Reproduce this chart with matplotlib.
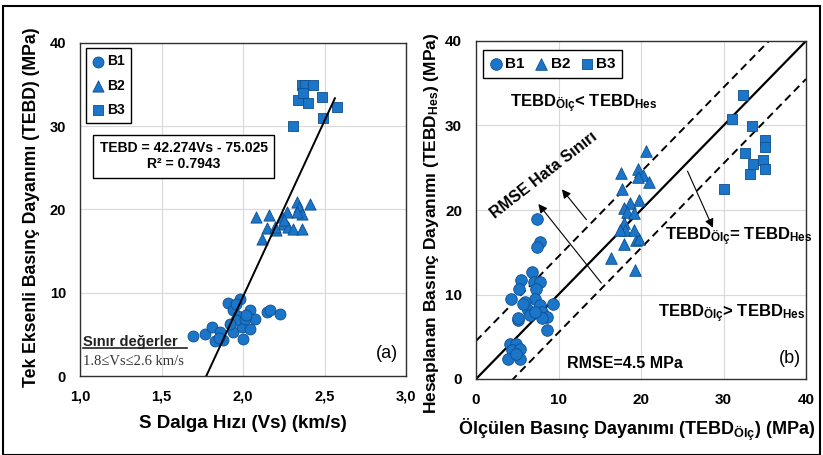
import matplotlib
matplotlib.use('Agg')
import matplotlib.pyplot as plt
from matplotlib.patches import Rectangle
from matplotlib.lines import Line2D
import numpy as np

plt.rcParams['font.family'] = ['Liberation Sans', 'DejaVu Sans']
plt.rcParams['mathtext.fontset'] = 'custom'
plt.rcParams['mathtext.rm'] = 'Liberation Sans'
plt.rcParams['mathtext.bf'] = 'Liberation Sans:bold'
plt.rcParams['mathtext.it'] = 'Liberation Sans:italic'

# ---------------- data: panel (a) ----------------
b1_vs = [1.695, 1.767, 1.808, 1.859, 1.828, 1.879, 1.91, 1.94, 1.982, 1.971, 1.94, 1.992, 2.002,
         2.043, 2.074, 2.043, 2.145, 2.166, 2.227, 1.96, 2.01, 1.96, 1.85, 2.02, 1.92]
b1_tebd = [4.8, 5.1, 5.9, 5.3, 4.2, 4.3, 8.8, 7.9, 9.3, 7.2, 5.3, 5.9, 4.4,
           7.9, 6.9, 5.6, 7.7, 7.9, 7.4, 6.7, 6.9, 8.7, 4.6, 7.3, 6.2]
b2_vs = [2.08, 2.115, 2.16, 2.149, 2.202, 2.237, 2.247, 2.278, 2.268, 2.329, 2.345, 2.36,
         2.411, 2.309, 2.36, 2.33, 2.196, 2.25]
b2_tebd = [19.1, 16.5, 19.3, 17.8, 17.5, 19.1, 18.3, 17.9, 19.7, 20.9, 20.3, 19.5,
           20.7, 17.7, 17.7, 19.7, 17.9, 18.7]
b3_vs = [2.36, 2.38, 2.431, 2.483, 2.339, 2.40, 2.37, 2.575, 2.49, 2.309]
b3_tebd = [34.95, 34.95, 34.95, 33.5, 33.15, 32.76, 33.96, 32.35, 31.0, 30.0]
fit_slope, fit_intercept = 42.274, -75.025
fit_vs_range = [1.775, 2.564]
xticks_a = [1.0, 1.5, 2.0, 2.5, 3.0]
xticklabels_a = ['1,0', '1,5', '2,0', '2,5', '3,0']
yticks = [0, 10, 20, 30, 40]

# ---------------- data: panel (b) ----------------
b1_olc = [7.35, 7.76, 7.35, 6.75, 5.5, 7.0, 7.8, 5.25, 7.27, 4.2, 7.15, 5.9, 9.3, 6.3, 7.76, 7.96,
          6.55, 5.13, 8.57, 7.96, 8.57, 4.12, 4.85, 4.32, 5.33, 3.9, 5.33, 4.9, 5.7, 7.15, 5.13]
b1_hes = [18.9, 16.2, 15.6, 12.7, 11.7, 11.5, 11.5, 10.7, 10.7, 9.5, 9.5, 9.1, 8.9, 8.2, 8.75, 7.96,
          7.57, 6.98, 7.37, 7.17, 5.8, 4.2, 4.2, 3.4, 3.6, 2.4, 2.4, 3.0, 8.9, 7.96, 7.17]
b2_olc = [20.6, 17.6, 19.6, 20.3, 21.0, 19.6, 17.7, 19.7, 18.7, 17.9, 18.3, 19.1, 17.9, 18.1,
          17.5, 17.9, 19.4, 19.7, 16.4, 19.3, 19.2]
b2_hes = [27.0, 24.4, 24.9, 24.1, 23.3, 23.9, 22.5, 21.2, 20.8, 20.2, 19.8, 19.6, 18.5, 17.6,
          17.6, 16.0, 16.4, 16.6, 14.3, 12.9, 17.6]
b3_olc = [32.4, 31.0, 33.4, 35.0, 35.0, 32.6, 33.6, 34.8, 35.0, 33.2, 30.0]
b3_hes = [33.6, 30.8, 29.9, 28.3, 27.5, 26.7, 25.5, 25.9, 24.9, 24.3, 22.5]
rmse = 4.5
xticks_b = [0, 10, 20, 30, 40]

BLUE = '#1b75c8'
EDGE = '#0e4f8f'
W, H = 823, 455

fig = plt.figure(figsize=(W / 100, H / 100), dpi=100)


def px_axes(x0, y0, x1, y1):
    return fig.add_axes([x0 / W, 1 - y1 / H, (x1 - x0) / W, (y1 - y0) / H])


def style(ax, size, pad):
    ax.grid(True, color='#d9d9d9', lw=0.8)
    ax.set_axisbelow(True)
    ax.tick_params(length=0, labelsize=size, pad=pad)
    for lab in ax.get_xticklabels() + ax.get_yticklabels():
        lab.set_fontweight('bold')
    for s in ax.spines.values():
        s.set_color('#303030')
        s.set_linewidth(1.0)


mk = dict(c=BLUE, edgecolors=EDGE, linewidths=0.6, zorder=3)

# ---------------- panel (a) ----------------
axa = px_axes(80, 43, 406, 376)
axa.set_xlim(1.0, 3.0)
axa.set_ylim(0, 40)
axa.set_xticks(xticks_a)
axa.set_xticklabels(xticklabels_a)
axa.set_yticks(yticks)
style(axa, 10.5, 10)
axa.scatter(b1_vs, b1_tebd, marker='o', s=62, label='B1', **mk)
axa.scatter(b2_vs, b2_tebd, marker='^', s=65, label='B2', **mk)
axa.scatter(b3_vs, b3_tebd, marker='s', s=52, label='B3', **mk)
fx = np.array(fit_vs_range)
axa.plot(fx, fit_slope * fx + fit_intercept, color='black', lw=1.4, zorder=4)
leg = axa.legend(loc='upper left', bbox_to_anchor=(0.018, 0.985), borderaxespad=0,
                 handlelength=0.8, handletextpad=0.3, labelspacing=0.75, borderpad=0.45,
                 fancybox=False, framealpha=1, prop={'weight': 'bold', 'size': 10})
leg.get_frame().set_edgecolor('black')
leg.get_frame().set_linewidth(1.0)
axa.text(1.635, 26.4, 'TEBD = 42.274Vs - 75.025\nR² = 0.7943', ha='center', va='center',
         multialignment='center', fontsize=10, fontweight='bold', zorder=5,
         bbox=dict(boxstyle='square,pad=0.45', fc='white', ec='black', lw=1.0))
axa.text(0.009, 0.103, 'Sınır değerler', transform=axa.transAxes, ha='left', va='center',
         fontsize=10.5, fontweight='bold', color='#222222')
axa.add_line(Line2D([0.009, 0.328], [0.084, 0.084], transform=axa.transAxes, color='#222222', lw=1.2))
axa.text(0.009, 0.043, '1.8≤Vs≤2.6 km/s', transform=axa.transAxes, ha='left', va='center',
         fontsize=10.5, family=['Liberation Serif', 'DejaVu Serif'], color='#333333')
axa.text(0.975, 0.069, '(a)', transform=axa.transAxes, ha='right', va='center', fontsize=13)
fig.text(243 / W, 1 - 424 / H, 'S Dalga Hızı (Vs) (km/s)', ha='center', va='center',
         fontsize=13.5, fontweight='bold')
fig.text(32 / W, 1 - 207 / H, 'Tek Eksenli Basınç Dayanımı (TEBD) (MPa)', ha='center',
         va='center', rotation=90, fontsize=12.7, fontweight='bold')

# ---------------- panel (b) ----------------
axb = px_axes(476, 41, 806, 379)
axb.set_xlim(0, 40)
axb.set_ylim(0, 40)
axb.set_xticks(xticks_b)
axb.set_yticks(yticks)
style(axb, 11, 10)
lim = np.array([0, 40])
axb.plot(lim, lim, color='black', lw=1.6, zorder=2)
axb.plot(lim, lim + rmse, color='black', lw=1.4, ls=(0, (4, 2.5)), zorder=2)
axb.plot(lim, lim - rmse, color='black', lw=1.4, ls=(0, (4, 2.5)), zorder=2)
axb.scatter(b1_olc, b1_hes, marker='o', s=70, label='B1', **mk)
axb.scatter(b2_olc, b2_hes, marker='^', s=70, label='B2', **mk)
axb.scatter(b3_olc, b3_hes, marker='s', s=60, label='B3', **mk)
legb = axb.legend(loc='upper left', bbox_to_anchor=(0.021, 0.973), borderaxespad=0, ncol=3,
                  handlelength=0.8, handletextpad=0.2, columnspacing=0.7, borderpad=0.45,
                  fancybox=False, framealpha=1, prop={'weight': 'bold', 'size': 11})
legb.get_frame().set_edgecolor('black')
legb.get_frame().set_linewidth(1.0)
ap = dict(arrowstyle='-|>', color='black', lw=0.8, mutation_scale=13)
axb.annotate('', xy=(7.35, 20.97), xytext=(15.4, 11.1), arrowprops=ap)
axb.annotate('', xy=(10.2, 22.7), xytext=(13.6, 18.6), arrowprops=ap)
axb.annotate('', xy=(28.85, 17.6), xytext=(25.5, 24.9), arrowprops=ap)
axb.text(8.2, 24.1, 'RMSE Hata Sınırı', rotation=38, rotation_mode='anchor', ha='center',
         va='center', fontsize=11.5, fontweight='bold')
axb.text(4.1, 32.6, r'TEBD$_{\mathbf{Ölç}}$< TEBD$_{\mathbf{Hes}}$', ha='left', va='center',
         fontsize=12, fontweight='bold')
axb.text(22.9, 16.8, r'TEBD$_{\mathbf{Ölç}}$= TEBD$_{\mathbf{Hes}}$', ha='left', va='center',
         fontsize=12, fontweight='bold')
axb.text(22.1, 7.76, r'TEBD$_{\mathbf{Ölç}}$> TEBD$_{\mathbf{Hes}}$', ha='left', va='center',
         fontsize=12, fontweight='bold')
axb.text(11.0, 1.85, 'RMSE=4.5 MPa', ha='left', va='center', fontsize=11.5, fontweight='bold')
axb.text(0.985, 0.06, '(b)', transform=axb.transAxes, ha='right', va='center', fontsize=13)
fig.text(637 / W, 1 - 430 / H, r'Ölçülen Basınç Dayanımı (TEBD$_{\mathbf{Ölç}}$) (MPa)',
         ha='center', va='center', fontsize=13, fontweight='bold')
fig.text(431 / W, 1 - 223 / H, r'Hesaplanan Basınç Dayanımı (TEBD$_{\mathbf{Hes}}$) (MPa)',
         ha='center', va='center', rotation=90, fontsize=12.5, fontweight='bold')

# outer frame
fig.patches.append(Rectangle((3 / W, 1 - 455 / H), 817 / W, 449 / H, transform=fig.transFigure,
                             fill=False, ec='black', lw=1.5))

fig.savefig('out.png', dpi=100)
